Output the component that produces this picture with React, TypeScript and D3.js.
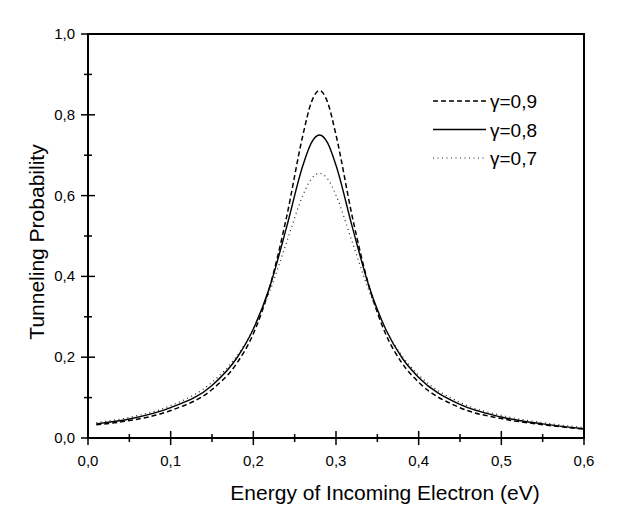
import React from "react";
import * as d3 from "d3";

const energies = [0.01, 0.05, 0.1, 0.15, 0.18, 0.2, 0.22, 0.24, 0.26, 0.27, 0.28, 0.29, 0.3, 0.32, 0.34, 0.36, 0.38, 0.4, 0.45, 0.5, 0.55, 0.6];
const gamma09 = [0.033, 0.043, 0.068, 0.12, 0.185, 0.258, 0.375, 0.545, 0.75, 0.83, 0.86, 0.83, 0.75, 0.545, 0.375, 0.258, 0.185, 0.138, 0.075, 0.048, 0.033, 0.022];
const gamma08 = [0.035, 0.047, 0.075, 0.13, 0.198, 0.27, 0.375, 0.52, 0.675, 0.73, 0.75, 0.73, 0.675, 0.52, 0.375, 0.27, 0.198, 0.15, 0.083, 0.052, 0.035, 0.023];
const gamma07 = [0.038, 0.051, 0.08, 0.138, 0.203, 0.27, 0.364, 0.483, 0.601, 0.641, 0.655, 0.641, 0.601, 0.483, 0.364, 0.27, 0.203, 0.156, 0.088, 0.056, 0.038, 0.026];

const seriesNames = ["γ=0,9", "γ=0,8", "γ=0,7"];
const xMajorTicks = [0, 0.1, 0.2, 0.3, 0.4, 0.5, 0.6];
const xMinorTicks = [0.05, 0.15, 0.25, 0.35, 0.45, 0.55];
const yMajorTicks = [0, 0.2, 0.4, 0.6, 0.8, 1.0];
const yMinorTicks = [0.1, 0.3, 0.5, 0.7, 0.9];

const fmt = (v: number) => v.toFixed(1).replace(".", ",");

export default function App() {
  const W = 624, H = 527;
  const left = 88, right = 584, top = 34, bottom = 438;
  const x = d3.scaleLinear().domain([0, 0.6]).range([left, right]);
  const y = d3.scaleLinear().domain([0, 1]).range([bottom, top]);
  const line = d3
    .line<[number, number]>()
    .x((d) => x(d[0]))
    .y((d) => y(d[1]))
    .curve(d3.curveMonotoneX);
  const series = [gamma09, gamma08, gamma07];
  const dashes = ["5,3", "", "1,3.5"];
  const widths = [1.5, 1.4, 1.2];
  const strokes = ["#000", "#000", "#222"];
  const font = "Liberation Sans, Arial, sans-serif";

  return (
    <svg width={W} height={H} style={{ position: "absolute", left: 0, top: 0, background: "#fff" }}>
      <rect x={0} y={0} width={W} height={H} fill="#fff" />
      {series.map((s, i) => (
        <path
          key={i}
          d={line(energies.map((e, j) => [e, s[j]] as [number, number])) || ""}
          fill="none"
          stroke={strokes[i]}
          strokeWidth={widths[i]}
          strokeDasharray={dashes[i] || undefined}
        />
      ))}
      {/* frame */}
      <rect x={left} y={top} width={right - left} height={bottom - top} fill="none" stroke="#000" strokeWidth={2} />
      {/* x ticks */}
      {xMajorTicks.map((t) => (
        <g key={"xm" + t}>
          <line x1={x(t)} x2={x(t)} y1={bottom - 7} y2={bottom + 7} stroke="#000" strokeWidth={1.5} />
          <text x={x(t)} y={bottom + 28} textAnchor="middle" fontFamily={font} fontSize={15} fill="#000">
            {fmt(t)}
          </text>
        </g>
      ))}
      {xMinorTicks.map((t) => (
        <line key={"xn" + t} x1={x(t)} x2={x(t)} y1={bottom - 4} y2={bottom + 4} stroke="#000" strokeWidth={1.5} />
      ))}
      {/* y ticks */}
      {yMajorTicks.map((t) => (
        <g key={"ym" + t}>
          <line x1={left - 7} x2={left + 7} y1={y(t)} y2={y(t)} stroke="#000" strokeWidth={1.5} />
          <text x={left - 13} y={y(t) + 5} textAnchor="end" fontFamily={font} fontSize={15} fill="#000">
            {fmt(t)}
          </text>
        </g>
      ))}
      {yMinorTicks.map((t) => (
        <line key={"yn" + t} x1={left - 4} x2={left + 4} y1={y(t)} y2={y(t)} stroke="#000" strokeWidth={1.5} />
      ))}
      {/* axis titles */}
      <text x={385} y={500} textAnchor="middle" fontFamily={font} fontSize={21} fill="#000">
        Energy of Incoming Electron (eV)
      </text>
      <text
        transform={`translate(44, 242) rotate(-90)`}
        textAnchor="middle"
        fontFamily={font}
        fontSize={21}
        fill="#000"
      >
        Tunneling Probability
      </text>
      {/* legend */}
      {seriesNames.map((n, i) => (
        <g key={n}>
          <line
            x1={433}
            x2={486}
            y1={101 + i * 28.5}
            y2={101 + i * 28.5}
            stroke={strokes[i]}
            strokeWidth={widths[i]}
            strokeDasharray={dashes[i] || undefined}
          />
          <text x={490} y={101 + i * 28.5 + 7} fontFamily={font} fontSize={19} fill="#000">
            {n}
          </text>
        </g>
      ))}
    </svg>
  );
}
